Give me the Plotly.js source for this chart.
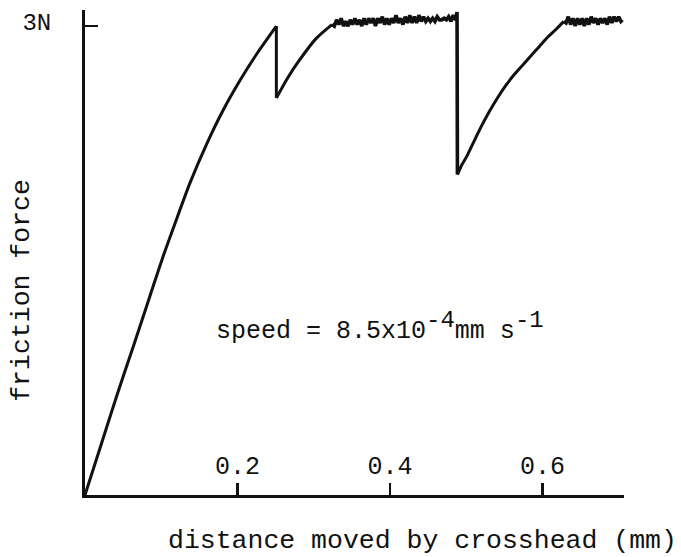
<!DOCTYPE html>
<html>
<head>
<meta charset="utf-8">
<script src="https://cdn.plot.ly/plotly-3.0.1.min.js"></script>
<style>
  html, body { margin: 0; padding: 0; background: #ffffff; }
  #chart { width: 681px; height: 557px; }
</style>
</head>
<body>
<div id="chart"></div>
<script>
// ---- data (distance in mm, force in N) ----
const loadingX = [0, 0.021, 0.042, 0.064, 0.085, 0.102, 0.116, 0.138, 0.160, 0.181, 0.203, 0.225, 0.251];
const loadingY = [0, 0.32, 0.64, 0.96, 1.27, 1.52, 1.71, 2.00, 2.25, 2.46, 2.65, 2.82, 3.00];

const slip1X = [0.251, 0.266, 0.281, 0.303, 0.324];
const slip1Y = [2.54, 2.67, 2.78, 2.92, 3.01];

const plateau1X = [0.324, 0.327, 0.330, 0.333, 0.336, 0.339, 0.342, 0.345, 0.348, 0.351, 0.354,
                   0.357, 0.360, 0.363, 0.366, 0.369, 0.372, 0.375, 0.378, 0.381, 0.384,
                   0.387, 0.390, 0.393, 0.396, 0.399, 0.402, 0.405, 0.408, 0.411, 0.414,
                   0.417, 0.420, 0.423, 0.426, 0.429, 0.432, 0.435, 0.438, 0.441, 0.444,
                   0.447, 0.450, 0.453, 0.456, 0.459, 0.462, 0.465, 0.468, 0.471, 0.474,
                   0.477, 0.480, 0.483, 0.486, 0.488];
const plateau1Y = [3.01, 3.00, 3.04, 3.01, 3.05, 3.00, 3.03, 3.00, 3.04, 3.01, 3.05,
                   3.01, 3.04, 3.00, 3.05, 3.01, 3.05, 3.02, 3.05, 3.00, 3.05,
                   3.02, 3.06, 3.01, 3.05, 3.01, 3.05, 3.02, 3.07, 3.02, 3.05,
                   3.01, 3.06, 3.02, 3.07, 3.02, 3.06, 3.02, 3.07, 3.03, 3.06,
                   3.03, 3.05, 3.03, 3.05, 3.03, 3.06, 3.04, 3.04, 3.05, 3.04,
                   3.06, 3.03, 3.07, 3.04, 3.09];

const slip2X = [0.4885, 0.494, 0.500, 0.508, 0.519, 0.530, 0.541, 0.552, 0.563, 0.574, 0.585, 0.596, 0.607, 0.618, 0.628];
const slip2Y = [2.05, 2.11, 2.16, 2.24, 2.35, 2.45, 2.54, 2.62, 2.69, 2.75, 2.81, 2.87, 2.93, 2.98, 3.03];

const plateau2X = [0.628, 0.631, 0.634, 0.637, 0.640, 0.643, 0.646, 0.649, 0.652, 0.655, 0.658,
                   0.661, 0.664, 0.667, 0.670, 0.673, 0.676, 0.679, 0.682, 0.685, 0.688,
                   0.691, 0.694, 0.697, 0.700, 0.703, 0.705];
const plateau2Y = [3.03, 3.02, 3.06, 3.01, 3.05, 3.00, 3.05, 3.01, 3.05, 3.00, 3.05,
                   3.01, 3.06, 3.02, 3.05, 3.01, 3.05, 3.02, 3.05, 3.01, 3.06,
                   3.02, 3.06, 3.03, 3.06, 3.03, 3.04];

const xTickVals = [0.2, 0.4, 0.6];
const xTickText = ['0.2', '0.4', '0.6'];
const yTickVals = [3];
const yTickText = ['3N'];

const xTitle = 'distance moved by crosshead (mm)';
const yTitle = 'friction force';
const speedNote = 'speed = 8.5x10<sup><span style="font-size:24px">-4</span></sup>mm s<sup><span style="font-size:24px">-1</span></sup>';

// ---- build traces ----
const FONT = '"Liberation Mono", "Courier New", monospace';
const INK = '#111111';

function seg(x, y, shape, width) {
  return { x: x, y: y, type: 'scatter', mode: 'lines',
           line: { color: INK, width: width, shape: shape, smoothing: 0.8 },
           hoverinfo: 'skip', showlegend: false };
}
const last = a => a[a.length - 1];

const traces = [
  seg(loadingX, loadingY, 'spline', 3),
  seg([last(loadingX), slip1X[0]], [last(loadingY), slip1Y[0]], 'linear', 3),
  seg(slip1X, slip1Y, 'spline', 3),
  seg(plateau1X.concat([slip2X[0]]), plateau1Y.concat([slip2Y[0]]), 'linear', 3.6),
  seg(slip2X, slip2Y, 'spline', 3),
  seg(plateau2X, plateau2Y, 'linear', 3.6)
];

const layout = {
  width: 681, height: 557,
  margin: { l: 85, r: 57, t: 10, b: 62, pad: 0 },
  paper_bgcolor: '#ffffff', plot_bgcolor: '#ffffff',
  font: { family: FONT, size: 25, color: INK },
  showlegend: false,
  xaxis: {
    range: [0, 0.707], showgrid: false, zeroline: false,
    showline: true, linecolor: INK, linewidth: 3,
    tickmode: 'array', tickvals: xTickVals, ticktext: xTickText,
    ticks: 'inside', ticklen: 12, tickwidth: 2.5, tickcolor: INK,
    ticklabelposition: 'inside', ticklabelstandoff: 6,
    tickfont: { family: FONT, size: 25, color: INK },
    fixedrange: true
  },
  yaxis: {
    range: [0, 3.103], showgrid: false, zeroline: false,
    showline: true, linecolor: INK, linewidth: 3,
    tickmode: 'array', tickvals: yTickVals, ticktext: yTickText,
    ticks: 'inside', ticklen: 13, tickwidth: 2.5, tickcolor: INK,
    ticklabelstandoff: 26, ticklabelshift: -5,
    tickfont: { family: FONT, size: 24, color: INK },
    fixedrange: true
  },
  annotations: [
    { text: xTitle, xref: 'paper', yref: 'paper', x: 1.102, y: -0.094,
      xanchor: 'right', yanchor: 'middle', showarrow: false,
      font: { family: FONT, size: 26.5, color: INK } },
    { text: yTitle, xref: 'paper', yref: 'paper', x: -0.117, y: 0.423,
      xanchor: 'center', yanchor: 'middle', textangle: -90, showarrow: false,
      font: { family: FONT, size: 26.5, color: INK } },
    { text: speedNote, xref: 'paper', yref: 'paper', x: 0.240, y: 0.347,
      xanchor: 'left', yanchor: 'middle', showarrow: false,
      font: { family: FONT, size: 25, color: INK } }
  ]
};

Plotly.newPlot('chart', traces, layout, { staticPlot: true, displayModeBar: false });
</script>
</body>
</html>
